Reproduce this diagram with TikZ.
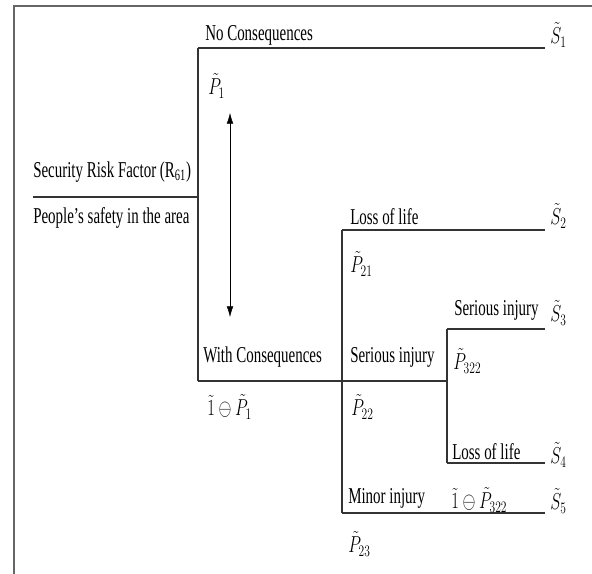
\documentclass[tikz,border=0pt]{standalone}
\usepackage{fontspec}
\setmainfont[FakeStretch=0.66]{Liberation Serif}
\usepackage{graphicx}
\usetikzlibrary{arrows.meta}
\newcommand{\mlab}[1]{\scalebox{0.72}[1]{$#1$}}

\begin{document}
\begin{tikzpicture}[x=0.75pt, y=0.75pt]
\tikzset{
	branch/.style = {
		draw=black!80, line width=0.9pt
	},
	frame/.style = {
		draw=black!60, line width=1.5pt
	},
	lbl/.style = {
		anchor=west, inner sep=0pt,
		font=\fontsize{17}{19}\selectfont
	},
	prob/.style = {
		anchor=west, inner sep=0pt,
		font=\fontsize{17.5}{19}\selectfont
	},
}

\useasboundingbox (0,0) rectangle (592,574);

% frame
\coordinate (f1) at (14,0);
\coordinate (f2) at (14,568);
\coordinate (f3) at (592,568);
\draw[frame] (f1) -- (f2) -- (f3);

% branch points
\coordinate (root) at (33,377);
\coordinate (b0) at (198,377);
\coordinate (b0t) at (198,526);
\coordinate (b0b) at (198,193);
\coordinate (b1t) at (342,344);
\coordinate (b1b) at (342,61);
\coordinate (b2) at (447,193);
\coordinate (b2t) at (447,245);
\coordinate (b2b) at (447,111);
\foreach \i/\y in {1/526, 2/344, 3/245, 4/111, 5/61}
  \coordinate (e\i) at (545,\y);

% the tree
\draw[branch] (root) -- (b0);
\draw[branch] (b0t) -- (b0b);
\draw[branch] (b0t) -- (e1);
\draw[branch] (b0b) -- (b2);
\draw[branch] (b1t) -- (b1b);
\draw[branch] (b1t) -- (e2);
\draw[branch] (b2t) -- (b2b);
\draw[branch] (b2t) -- (e3);
\draw[branch] (b2b) -- (e4);
\draw[branch] (b1b) -- (e5);

% text on the branches
\node[lbl] (srf) at (33,402) {Security Risk Factor (R\textsubscript{61})};
\node[lbl] (ppl) at (33,356) {People's safety in the area};
\node[lbl] (nc) at (205,539) {No Consequences};
\node[lbl] (wc) at (203,217) {With Consequences};
\node[lbl] (ll1) at (350,357) {Loss of life};
\node[lbl] (si1) at (350,217) {Serious injury};
\node[lbl] (si2) at (454,264) {Serious injury};
\node[lbl] (ll2) at (452,122) {Loss of life};
\node[lbl] (mi) at (348,76) {Minor injury};

% probabilities
\node[prob] (p1) at (208,488) {\mlab{\tilde{P}_{1}}};
\node[prob] (q1) at (207,167) {\mlab{\tilde{1}\ominus\tilde{P}_{1}}};
\node[prob] (p21) at (350,310) {\mlab{\tilde{P}_{21}}};
\node[prob] (p22) at (351,167) {\mlab{\tilde{P}_{22}}};
\node[prob] (p23) at (348,30) {\mlab{\tilde{P}_{23}}};
\node[prob] (p322) at (453,213) {\mlab{\tilde{P}_{322}}};
\node[prob] (q322) at (451,74) {\mlab{\tilde{1}\ominus\tilde{P}_{322}}};

% outcomes
\foreach \i/\y in {1/539, 2/358, 3/261, 4/119, 5/73}
  \node[prob] (s\i) at (550,\y) {\mlab{\tilde{S}_{\i}}};

% the two way arrow
\coordinate (a1) at (230,461);
\coordinate (a2) at (230,257);
\draw[{Latex[length=8pt,width=5pt]}-{Latex[length=8pt,width=5pt]}, thin] (a1) -- (a2);

\end{tikzpicture}
\end{document}
